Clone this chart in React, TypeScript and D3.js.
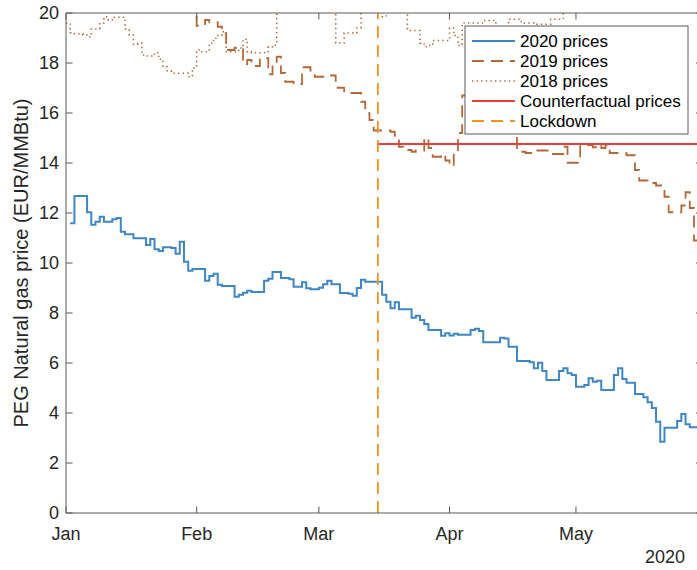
import React, { useEffect, useRef } from 'react';
import * as d3 from 'd3';

// ---- data ----
const monthTickDates = ['2020-01-01', '2020-02-01', '2020-03-01', '2020-04-01', '2020-05-01'];
const monthTickLabels = ['Jan', 'Feb', 'Mar', 'Apr', 'May'];
const yTickValues = [0, 2, 4, 6, 8, 10, 12, 14, 16, 18, 20];
const yearLabel = '2020';

const dates2020 = ['2020-01-02','2020-01-03','2020-01-06','2020-01-07','2020-01-08','2020-01-09','2020-01-10','2020-01-12','2020-01-13','2020-01-14','2020-01-15','2020-01-17','2020-01-20','2020-01-21','2020-01-22','2020-01-23','2020-01-24','2020-01-26','2020-01-27','2020-01-28','2020-01-29','2020-01-30','2020-01-31','2020-02-03','2020-02-04','2020-02-05','2020-02-06','2020-02-07','2020-02-10','2020-02-11','2020-02-12','2020-02-13','2020-02-14','2020-02-17','2020-02-18','2020-02-19','2020-02-21','2020-02-23','2020-02-24','2020-02-26','2020-02-27','2020-02-28','2020-03-01','2020-03-02','2020-03-03','2020-03-04','2020-03-06','2020-03-08','2020-03-09','2020-03-10','2020-03-11','2020-03-12','2020-03-16','2020-03-17','2020-03-18','2020-03-19','2020-03-20','2020-03-23','2020-03-24','2020-03-25','2020-03-26','2020-03-27','2020-03-30','2020-03-31','2020-04-01','2020-04-02','2020-04-03','2020-04-06','2020-04-07','2020-04-08','2020-04-09','2020-04-13','2020-04-14','2020-04-15','2020-04-17','2020-04-20','2020-04-21','2020-04-22','2020-04-23','2020-04-24','2020-04-27','2020-04-28','2020-04-29','2020-04-30','2020-05-01','2020-05-03','2020-05-04','2020-05-05','2020-05-06','2020-05-07','2020-05-10','2020-05-11','2020-05-12','2020-05-13','2020-05-15','2020-05-17','2020-05-18','2020-05-19','2020-05-20','2020-05-21','2020-05-22','2020-05-25','2020-05-26','2020-05-27','2020-05-28','2020-05-31'];
const prices2020 = [11.59,12.68,12.03,11.53,11.65,11.85,11.65,11.75,11.8,11.25,11.15,10.99,10.72,10.96,10.55,10.48,10.63,10.6,10.37,10.85,10.05,9.69,9.76,9.29,9.48,9.57,9.13,9.08,8.65,8.73,8.81,8.89,8.84,9.29,9.37,9.64,9.4,9.35,9.05,9.23,8.99,8.95,9.01,9.15,9.29,9.15,8.8,8.77,8.69,9.0,9.33,9.25,8.73,8.45,8.19,8.43,8.15,7.81,7.89,7.72,7.56,7.32,7.09,7.19,7.1,7.17,7.13,7.32,7.37,7.28,6.83,7.01,6.98,6.65,6.08,6.03,5.79,6.01,5.68,5.32,5.68,5.79,5.59,5.52,5.05,5.12,5.39,5.25,5.29,4.92,5.52,5.79,5.36,5.21,4.76,4.63,4.43,4.2,3.65,2.85,3.41,3.68,3.96,3.55,3.43,3.43];

const dates2019 = ['2020-01-01','2020-02-01','2020-02-03','2020-02-04','2020-02-06','2020-02-07','2020-02-08','2020-02-10','2020-02-12','2020-02-13','2020-02-14','2020-02-16','2020-02-18','2020-02-19','2020-02-20','2020-02-21','2020-02-22','2020-02-24','2020-02-26','2020-02-28','2020-02-29','2020-03-03','2020-03-05','2020-03-07','2020-03-11','2020-03-12','2020-03-13','2020-03-14','2020-03-18','2020-03-19','2020-03-20','2020-03-21','2020-03-23','2020-03-24','2020-03-26','2020-03-27','2020-03-28','2020-03-30','2020-03-31','2020-04-01','2020-04-02','2020-04-03','2020-04-04','2020-04-07','2020-04-10','2020-04-13','2020-04-17','2020-04-19','2020-04-21','2020-04-25','2020-04-28','2020-04-29','2020-05-02','2020-05-05','2020-05-06','2020-05-07','2020-05-08','2020-05-09','2020-05-12','2020-05-13','2020-05-15','2020-05-16','2020-05-18','2020-05-19','2020-05-20','2020-05-22','2020-05-23','2020-05-26','2020-05-27','2020-05-28','2020-05-29','2020-05-31'];
const prices2019 = [21.5,19.49,19.72,19.63,19.45,19.19,18.52,18.61,17.95,18.12,17.88,18.19,17.55,17.92,18.25,17.6,17.25,17.16,17.83,17.7,17.45,17.5,17.01,16.8,16.45,15.99,15.72,15.3,15.25,15.1,14.65,14.52,14.45,14.5,15.0,14.6,14.25,14.35,14.1,13.88,14.45,15.2,16.7,17.0,16.8,16.0,14.45,14.4,14.5,14.36,14.65,14.01,14.72,14.63,14.72,14.6,14.72,14.4,14.39,14.31,13.72,13.3,13.25,13.2,13.1,12.65,12.03,12.3,12.83,12.2,10.9,10.9];

const dates2018 = ['2020-01-01','2020-01-02','2020-01-03','2020-01-05','2020-01-06','2020-01-07','2020-01-09','2020-01-10','2020-01-11','2020-01-12','2020-01-15','2020-01-16','2020-01-17','2020-01-18','2020-01-19','2020-01-20','2020-01-22','2020-01-23','2020-01-24','2020-01-25','2020-01-26','2020-01-30','2020-01-31','2020-02-01','2020-02-02','2020-02-04','2020-02-05','2020-02-06','2020-02-07','2020-02-08','2020-02-11','2020-02-12','2020-02-13','2020-02-14','2020-02-18','2020-02-19','2020-02-20','2020-03-05','2020-03-07','2020-03-10','2020-03-11','2020-03-16','2020-03-17','2020-03-22','2020-03-25','2020-03-26','2020-03-27','2020-03-28','2020-04-01','2020-04-02','2020-04-03','2020-04-04','2020-04-09','2020-04-12','2020-04-15','2020-04-18','2020-04-21','2020-04-25','2020-04-28','2020-05-31'];
const prices2018 = [19.6,19.21,19.17,19.12,19.05,19.36,19.6,19.85,19.72,19.83,19.36,19.12,18.75,18.79,18.32,18.28,18.41,18.15,17.85,17.69,17.59,17.45,17.8,18.52,18.45,18.79,18.99,19.1,19.25,18.45,18.6,18.95,18.45,18.41,18.65,18.72,20.6,18.8,19.2,19.4,20.4,19.85,20.4,19.3,18.79,18.65,18.7,18.9,19.4,19.1,18.7,19.6,19.7,19.4,19.75,19.6,19.55,19.75,20.5,20.5];

const counterfactualPrice = 14.76;
const lockdownDate = '2020-03-15';
const xDomain = ['2020-01-01', '2020-05-31'];
const yDomain = [0, 20];

const legendLabels = ['2020 prices', '2019 prices', '2018 prices', 'Counterfactual prices', 'Lockdown'];

// ---- styles ----
const C_BLUE = '#3f86c4';
const C_BROWN = '#b3683a';
const C_RED = '#e8403d';
const C_ORANGE = '#f5911f';
const C_TEXT = '#262626';
const FONT = "'Liberation Sans', Arial, Helvetica, sans-serif";

const W = 697;
const H = 570;
const M = { left: 66, top: 13, right: 702.4, bottom: 513 };

const parse = d3.utcParse('%Y-%m-%d');

export default function App() {
  const ref = useRef<SVGSVGElement | null>(null);

  useEffect(() => {
    const svg = d3.select(ref.current);
    svg.selectAll('*').remove();

    const x = d3.scaleUtc().domain(xDomain.map((d) => parse(d) as Date)).range([M.left, M.right]);
    const y = d3.scaleLinear().domain(yDomain).range([M.bottom, M.top]);

    svg.append('defs').append('clipPath').attr('id', 'plotclip')
      .append('rect')
      .attr('x', M.left).attr('y', M.top)
      .attr('width', M.right - M.left).attr('height', M.bottom - M.top);

    const plot = svg.append('g').attr('clip-path', 'url(#plotclip)');

    const line = d3.line<[Date, number]>()
      .x((d) => x(d[0]))
      .y((d) => y(d[1]))
      .curve(d3.curveStepAfter);

    const series = [
      { dates: dates2020, values: prices2020, color: C_BLUE, width: 2, dash: null as string | null },
      { dates: dates2019, values: prices2019, color: C_BROWN, width: 1.8, dash: '12,7' },
      { dates: dates2018, values: prices2018, color: C_BROWN, width: 1.6, dash: '1.4,3.2' },
    ];

    series.forEach((s) => {
      const pts: [Date, number][] = s.dates.map((d, i) => [parse(d) as Date, s.values[i]]);
      const p = plot.append('path')
        .attr('d', line(pts))
        .attr('fill', 'none')
        .attr('stroke', s.color)
        .attr('stroke-width', s.width)
        .attr('stroke-linejoin', 'miter');
      if (s.dash) p.attr('stroke-dasharray', s.dash);
    });

    const lx = x(parse(lockdownDate) as Date);
    plot.append('line')
      .attr('x1', lx).attr('x2', M.right)
      .attr('y1', y(counterfactualPrice)).attr('y2', y(counterfactualPrice))
      .attr('stroke', C_RED).attr('stroke-width', 1.8);

    plot.append('line')
      .attr('x1', lx).attr('x2', lx)
      .attr('y1', M.bottom).attr('y2', M.top)
      .attr('stroke', C_ORANGE).attr('stroke-width', 1.8)
      .attr('stroke-dasharray', '12,7');

    // axes box
    const axisColor = '#5a5a5a';
    const ax = svg.append('g');
    ax.append('line').attr('x1', M.left).attr('x2', M.right).attr('y1', M.bottom).attr('y2', M.bottom)
      .attr('stroke', axisColor).attr('stroke-width', 1);
    ax.append('line').attr('x1', M.left).attr('x2', M.right).attr('y1', M.top).attr('y2', M.top)
      .attr('stroke', axisColor).attr('stroke-width', 1);
    ax.append('line').attr('x1', M.left).attr('x2', M.left).attr('y1', M.top).attr('y2', M.bottom)
      .attr('stroke', axisColor).attr('stroke-width', 1);
    ax.append('line').attr('x1', M.right).attr('x2', M.right).attr('y1', M.top).attr('y2', M.bottom)
      .attr('stroke', axisColor).attr('stroke-width', 1);

    const tickLen = 6.5;
    yTickValues.forEach((v) => {
      const yy = y(v);
      ax.append('line').attr('x1', M.left).attr('x2', M.left + tickLen).attr('y1', yy).attr('y2', yy)
        .attr('stroke', axisColor).attr('stroke-width', 1);
      ax.append('line').attr('x1', M.right).attr('x2', M.right - tickLen).attr('y1', yy).attr('y2', yy)
        .attr('stroke', axisColor).attr('stroke-width', 1);
      ax.append('text').attr('x', M.left - 7).attr('y', yy).attr('dy', '0.35em')
        .attr('text-anchor', 'end').attr('font-size', 18).attr('font-family', FONT).attr('fill', C_TEXT)
        .text(String(v));
    });

    monthTickDates.forEach((d, i) => {
      const xx = x(parse(d) as Date);
      ax.append('line').attr('x1', xx).attr('x2', xx).attr('y1', M.bottom).attr('y2', M.bottom - tickLen)
        .attr('stroke', axisColor).attr('stroke-width', 1);
      ax.append('line').attr('x1', xx).attr('x2', xx).attr('y1', M.top).attr('y2', M.top + tickLen)
        .attr('stroke', axisColor).attr('stroke-width', 1);
      ax.append('text').attr('x', xx).attr('y', 540)
        .attr('text-anchor', 'middle').attr('font-size', 18).attr('font-family', FONT).attr('fill', C_TEXT)
        .text(monthTickLabels[i]);
    });

    ax.append('text').attr('x', 685).attr('y', 563)
      .attr('text-anchor', 'end').attr('font-size', 18).attr('font-family', FONT).attr('fill', C_TEXT)
      .text(yearLabel);

    ax.append('text')
      .attr('transform', `translate(28, ${(M.top + M.bottom) / 2}) rotate(-90)`)
      .attr('text-anchor', 'middle').attr('font-size', 20).attr('font-family', FONT).attr('fill', C_TEXT)
      .text('PEG Natural gas price (EUR/MMBtu)');

    // legend
    const lg = svg.append('g');
    lg.append('rect').attr('x', 465).attr('y', 26).attr('width', 223).attr('height', 108)
      .attr('fill', 'white').attr('stroke', axisColor).attr('stroke-width', 1);
    const legendStyles = [
      { color: C_BLUE, dash: null as string | null, width: 2 },
      { color: C_BROWN, dash: '12,7', width: 1.8 },
      { color: C_BROWN, dash: '1.4,3.2', width: 1.6 },
      { color: C_RED, dash: null, width: 1.8 },
      { color: C_ORANGE, dash: '12,7', width: 1.8 },
    ];
    legendLabels.forEach((lab, i) => {
      const yy = 41 + i * 20;
      const st = legendStyles[i];
      const l = lg.append('line').attr('x1', 472).attr('x2', 515).attr('y1', yy).attr('y2', yy)
        .attr('stroke', st.color).attr('stroke-width', st.width);
      if (st.dash) l.attr('stroke-dasharray', st.dash);
      lg.append('text').attr('x', 520).attr('y', yy).attr('dy', '0.36em')
        .attr('font-size', 17).attr('font-family', FONT).attr('fill', '#000')
        .text(lab);
    });
  }, []);

  return (
    <svg
      ref={ref}
      width={W}
      height={H}
      style={{ position: 'absolute', left: 0, top: 0, background: 'white' }}
    />
  );
}
